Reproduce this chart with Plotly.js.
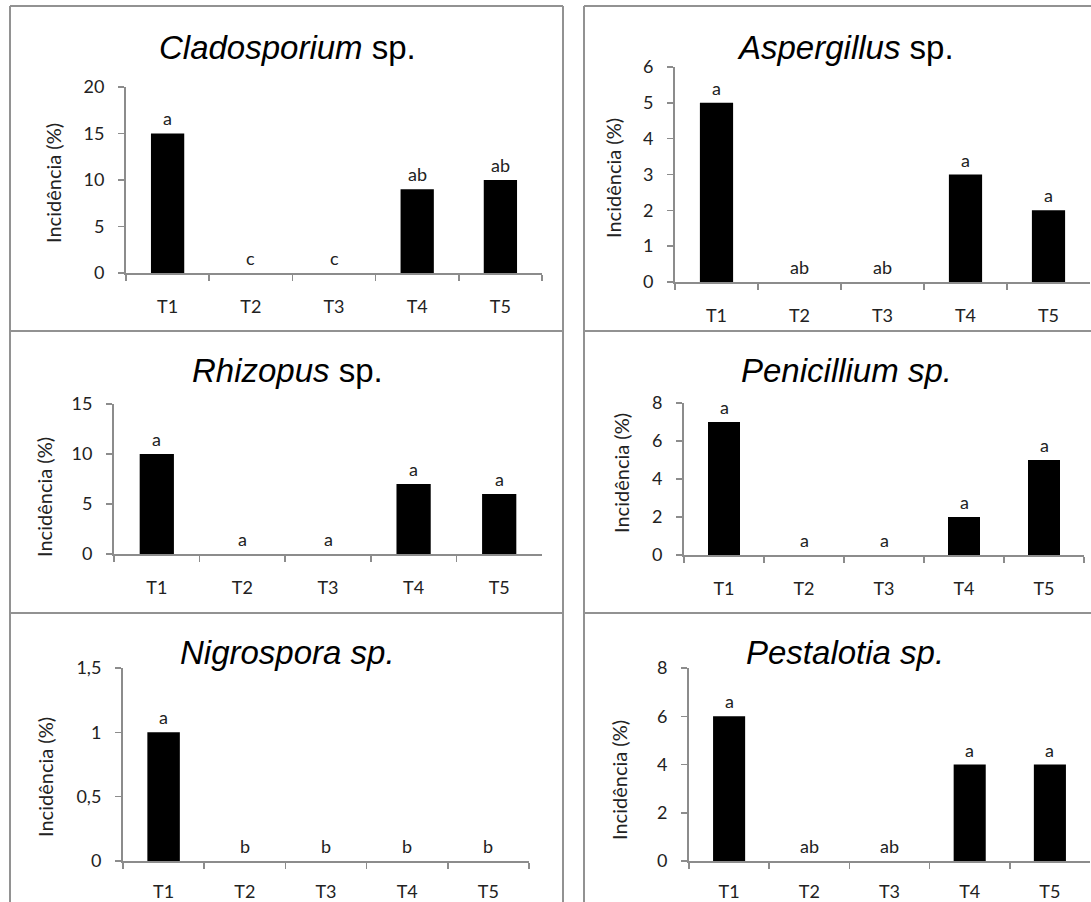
<!DOCTYPE html>
<html>
<head>
<meta charset="utf-8">
<script src="https://cdn.plot.ly/plotly-3.0.1.min.js"></script>
<style>
html, body { margin: 0; padding: 0; overflow: hidden; background: #fff; }
#chart { width: 1130px; height: 930px; }
</style>
</head>
<body>
<div id="chart"></div>
<script>
// ---- data ----
const categories = ['T1', 'T2', 'T3', 'T4', 'T5'];

const cladosporiumValues = [15, 0, 0, 9, 10];
const cladosporiumLetters = ['a', 'c', 'c', 'ab', 'ab'];

const aspergillusValues = [5, 0, 0, 3, 2];
const aspergillusLetters = ['a', 'ab', 'ab', 'a', 'a'];

const rhizopusValues = [10, 0, 0, 7, 6];
const rhizopusLetters = ['a', 'a', 'a', 'a', 'a'];

const penicilliumValues = [7, 0, 0, 2, 5];
const penicilliumLetters = ['a', 'a', 'a', 'a', 'a'];

const nigrosporaValues = [1, 0, 0, 0, 0];
const nigrosporaLetters = ['a', 'b', 'b', 'b', 'b'];

const pestalotiaValues = [6, 0, 0, 4, 4];
const pestalotiaLetters = ['a', 'ab', 'ab', 'a', 'a'];

const panelTitles = [
  '<i>Cladosporium</i> sp.',
  '<i>Aspergillus</i> sp.',
  '<i>Rhizopus</i> sp.',
  '<i>Penicillium sp.</i>',
  '<i>Nigrospora sp.</i>',
  '<i>Pestalotia sp.</i>'
];
const yAxisLabel = 'Incidência (%)';

// ---- layout geometry (pixels) ----
const W = 1130, H = 930;
const fx = p => p / W;
const fy = p => 1 - p / H;

const panels = [
  { values: cladosporiumValues, letters: cladosporiumLetters, x0: 126, x1: 542,  y0: 87,  y1: 273, ymax: 20,  dtick: 5,   tx: 287, ty: 47,  lx: 53,  ly: 183, std: 16 },
  { values: aspergillusValues,  letters: aspergillusLetters,  x0: 675, x1: 1090, y0: 67,  y1: 282, ymax: 6,   dtick: 1,   tx: 845, ty: 47,  lx: 613, ly: 178, std: 16 },
  { values: rhizopusValues,     letters: rhizopusLetters,     x0: 114, x1: 542,  y0: 404, y1: 554, ymax: 15,  dtick: 5,   tx: 287, ty: 370, lx: 44,  ly: 497, std: 16 },
  { values: penicilliumValues,  letters: penicilliumLetters,  x0: 684, x1: 1084, y0: 403, y1: 555, ymax: 8,   dtick: 2,   tx: 846, ty: 370, lx: 621, ly: 473, std: 16 },
  { values: nigrosporaValues,   letters: nigrosporaLetters,   x0: 123, x1: 529,  y0: 668, y1: 861, ymax: 1.5, dtick: 0.5, tx: 287, ty: 652, lx: 45,  ly: 777, std: 13 },
  { values: pestalotiaValues,   letters: pestalotiaLetters,   x0: 689, x1: 1090, y0: 668, y1: 861, ymax: 8,   dtick: 2,   tx: 845, ty: 652, lx: 619, ly: 780, std: 13 }
];

const tickFont = { family: 'Lato, "Open Sans", sans-serif', size: 18, color: '#222' };
const axisGray = '#8c8c8c';

const traces = [];
const layout = {
  width: W, height: H,
  margin: { l: 0, r: 0, t: 0, b: 0 },
  paper_bgcolor: '#fff', plot_bgcolor: '#fff',
  showlegend: false,
  separators: ', ',
  annotations: [],
  shapes: []
};

panels.forEach((p, i) => {
  const n = i + 1;
  const xa = n === 1 ? 'x' : 'x' + n;
  const ya = n === 1 ? 'y' : 'y' + n;
  traces.push({
    type: 'bar', x: categories, y: p.values,
    xaxis: xa, yaxis: ya, width: 0.4,
    marker: { color: '#000', line: { width: 0 } },
    hoverinfo: 'x+y'
  });
  layout['xaxis' + (n === 1 ? '' : n)] = {
    domain: [fx(p.x0), fx(p.x1)], anchor: ya,
    type: 'category', range: [-0.5, 4.5],
    showgrid: false, zeroline: false,
    showline: true, linecolor: axisGray, linewidth: 2,
    ticks: 'outside', tickson: 'boundaries', ticklen: 6, tickwidth: 1.5, tickcolor: axisGray,
    ticklabelstandoff: p.std,
    tickfont: tickFont, fixedrange: true
  };
  layout['yaxis' + (n === 1 ? '' : n)] = {
    domain: [fy(p.y1), fy(p.y0)], anchor: xa,
    range: [0, p.ymax], dtick: p.dtick, tick0: 0,
    showgrid: false, zeroline: false,
    showline: true, linecolor: axisGray, linewidth: 2,
    ticks: 'outside', ticklen: 6, tickwidth: 1.5, tickcolor: axisGray,
    ticklabelstandoff: 10,
    tickfont: tickFont, fixedrange: true
  };
  // panel title
  layout.annotations.push({
    xref: 'paper', yref: 'paper', x: fx(p.tx), y: fy(p.ty),
    xanchor: 'center', yanchor: 'middle', showarrow: false,
    text: panelTitles[i],
    font: { family: '"Liberation Sans", Arial, sans-serif', size: 33, color: '#000' }
  });
  // y-axis label
  layout.annotations.push({
    xref: 'paper', yref: 'paper', x: fx(p.lx), y: fy(p.ly),
    xanchor: 'center', yanchor: 'middle', showarrow: false, textangle: -90,
    text: yAxisLabel,
    font: { family: 'Lato, "Open Sans", sans-serif', size: 20, color: '#222' }
  });
  // significance letters
  categories.forEach((c, k) => {
    layout.annotations.push({
      xref: xa, yref: ya, x: c, y: p.values[k],
      xanchor: 'center', yanchor: 'bottom', showarrow: false, yshift: 2,
      text: p.letters[k],
      font: { family: 'Lato, "Open Sans", sans-serif', size: 18, color: '#222' }
    });
  });
});

// panel frames
const frameLine = { color: '#929292', width: 2 };
const frameCols = [[10, 563], [584, 1128]];
const frameRows = [6, 331, 613, 928];
frameCols.forEach(([a, b]) => {
  [a, b].forEach(xv => layout.shapes.push({
    type: 'line', xref: 'paper', yref: 'paper',
    x0: fx(xv), x1: fx(xv), y0: fy(frameRows[0]), y1: fy(frameRows[3]), line: frameLine
  }));
  frameRows.forEach(yv => layout.shapes.push({
    type: 'line', xref: 'paper', yref: 'paper',
    x0: fx(a), x1: fx(b), y0: fy(yv), y1: fy(yv), line: frameLine
  }));
});

Plotly.newPlot('chart', traces, layout, { displayModeBar: false, staticPlot: true });
</script>
</body>
</html>
